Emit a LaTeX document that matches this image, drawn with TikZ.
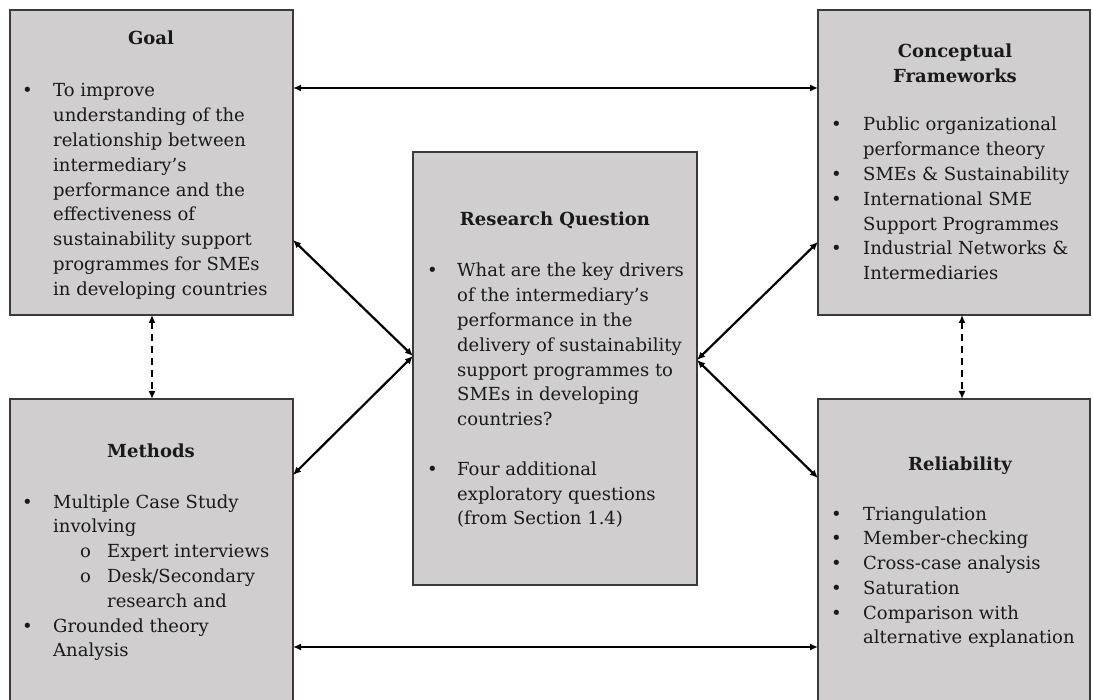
\documentclass[tikz,border=0pt]{standalone}
\usepackage{fontspec}
\setmainfont{DejaVu Serif}
\usetikzlibrary{arrows.meta}

\definecolor{boxfill}{HTML}{D0CECE}
\definecolor{boxline}{HTML}{3A3A3A}
\definecolor{ink}{HTML}{1A1A1A}

% bullet list helpers used inside a two-column tabular
\newcommand\bul{\textbullet}
\newcommand\subitm[1]{\hspace*{27pt}\makebox[27pt][l]{o}#1}
\newcommand\subcont[1]{\hspace*{54pt}#1}

\tikzset{
  panel/.style={draw=boxline, fill=boxfill, line width=1.3pt, inner sep=0pt,
                outer sep=0pt, anchor=north west},
  body/.style={anchor=base west, inner sep=0pt, text=ink, font=\fontsize{18}{24.8}\selectfont},
  head/.style={anchor=base, inner sep=0pt, text=ink, font=\fontsize{18}{24.5}\selectfont\bfseries},
  link/.style={line width=2.2pt, {Latex[length=8pt,width=7pt]}-{Latex[length=8pt,width=7pt]}},
  dlink/.style={link, dash pattern=on 7pt off 5pt}
}

\begin{document}
\begin{tikzpicture}[x=1pt, y=-1pt]
\useasboundingbox (0,0) rectangle (1093,700);
\path[clip] (0,0) rectangle (1093,700);

% panels
\node[panel, minimum width=283pt, minimum height=305pt] (goal)  at (10,10) {};
\node[panel, minimum width=272pt, minimum height=305pt] (frame) at (818,10) {};
\node[panel, minimum width=284pt, minimum height=433pt] (rq)    at (413,152) {};
\node[panel, minimum width=283pt, minimum height=312pt] (meth)  at (10,399) {};
\node[panel, minimum width=272pt, minimum height=312pt] (rel)   at (818,399) {};

% Goal
\node[head] (goalh) at (151,45) {Goal};
\node[body] (goalt) at (22,97) {\begin{tabular}[t]{@{}p{31pt}@{}l@{}}
\bul & To improve\\
 & understanding of the\\
 & relationship between\\
 & intermediary’s\\
 & performance and the\\
 & effectiveness of\\
 & sustainability support\\
 & programmes for SMEs\\
 & in developing countries
\end{tabular}};

% Conceptual Frameworks
\node[head] (frameh) at (955,58) {\begin{tabular}[t]{@{}c@{}}Conceptual\\[-0.3pt]Frameworks\end{tabular}};
\node[body] (framet) at (831,131) {\begin{tabular}[t]{@{}p{32pt}@{}l@{}}
\bul & Public organizational\\
 & performance theory\\
\bul & SMEs \& Sustainability\\
\bul & International SME\\
 & Support Programmes\\
\bul & Industrial Networks \&\\
 & Intermediaries
\end{tabular}};

% Research Question
\node[head] (rqh) at (555,226) {Research Question};
\node[body] (rqt) at (427,277) {\begin{tabular}[t]{@{}p{30pt}@{}l@{}}
\bul & What are the key drivers\\
 & of the intermediary’s\\
 & performance in the\\
 & delivery of sustainability\\
 & support programmes to\\
 & SMEs in developing\\
 & countries?\\
 & \\
\bul & Four additional\\
 & exploratory questions\\
 & (from Section 1.4)
\end{tabular}};

% Methods
\node[head] (methh) at (151,458) {Methods};
\node[body] (metht) at (22,508) {\begin{tabular}[t]{@{}p{31pt}@{}l@{}}
\bul & Multiple Case Study\\
 & involving\\
 & \subitm{Expert interviews}\\
 & \subitm{Desk/Secondary}\\
 & \subcont{research and}\\
\bul & Grounded theory\\
 & Analysis
\end{tabular}};

% Reliability
\node[head] (relh) at (960,471) {Reliability};
\node[body] (relt) at (831,520) {\begin{tabular}[t]{@{}p{32pt}@{}l@{}}
\bul & Triangulation\\
\bul & Member-checking\\
\bul & Cross-case analysis\\
\bul & Saturation\\
\bul & Comparison with\\
 & alternative explanation
\end{tabular}};

% connectors
\draw[link] ([yshift=-78pt]goal.north east) -- ([yshift=-78pt]frame.north west);
\draw[link] ([yshift=-248pt]meth.north east) -- ([yshift=-248pt]rel.north west);
\draw[dlink] ([xshift=142pt]goal.south west) -- ([xshift=142pt]meth.north west);
\draw[dlink] ([xshift=144pt]frame.south west) -- ([xshift=144pt]rel.north west);
\draw[link] ([yshift=-230pt]goal.north east) -- ([yshift=-204pt]rq.north west);
\draw[link] ([yshift=-76pt]meth.north east) -- ([yshift=-204pt]rq.north west);
\draw[link] ([yshift=-232pt]frame.north west) -- ([yshift=-208pt]rq.north east);
\draw[link] ([yshift=-79pt]rel.north west) -- ([yshift=-208pt]rq.north east);
\end{tikzpicture}
\end{document}
